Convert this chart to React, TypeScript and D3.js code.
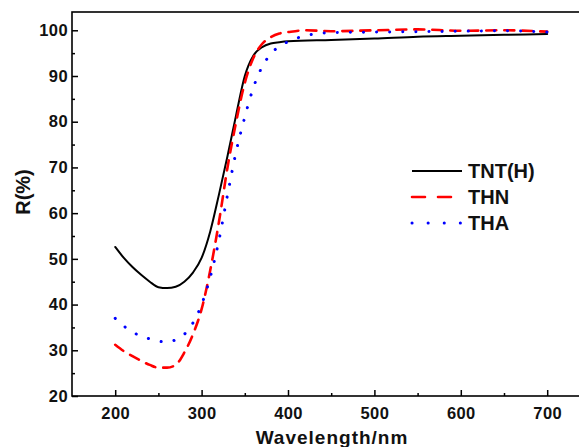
import React, { useRef, useEffect } from "react";
import * as d3 from "d3";

// wavelength (nm) sample points for each curve
const tntWave = [200, 210, 220, 230, 240, 250, 260, 270, 280, 290, 300, 310, 320, 330, 340, 350, 360, 370, 380, 390, 400, 450, 500, 550, 600, 650, 700];
const tntR = [52.6, 50.2, 48.2, 46.5, 45.0, 43.8, 43.6, 43.9, 45.0, 47.0, 50.2, 56.0, 64.0, 72.5, 81.5, 90.0, 94.5, 96.3, 97.1, 97.4, 97.6, 97.9, 98.2, 98.6, 98.8, 99.0, 99.2];

const thnWave = [200, 210, 220, 230, 240, 250, 260, 270, 280, 290, 300, 310, 320, 330, 340, 350, 360, 370, 380, 390, 400, 420, 450, 500, 550, 600, 650, 700];
const thnR = [31.2, 29.8, 28.7, 27.7, 26.8, 26.2, 26.2, 26.8, 29.5, 33.5, 39.0, 47.5, 58.0, 70.0, 80.0, 88.5, 94.0, 97.0, 98.5, 99.3, 99.6, 100.0, 99.8, 100.0, 100.2, 99.9, 100.0, 99.7];

const thaWave = [200, 210, 220, 230, 240, 250, 260, 270, 280, 290, 300, 310, 320, 330, 340, 350, 360, 370, 380, 390, 400, 420, 450, 500, 550, 600, 650, 700];
const thaR = [37.0, 35.3, 34.0, 33.1, 32.5, 32.0, 31.8, 32.3, 33.5, 36.0, 40.0, 46.0, 54.0, 64.0, 73.5, 81.0, 87.5, 92.0, 94.8, 96.5, 97.5, 98.8, 99.5, 99.6, 99.7, 99.8, 99.9, 99.6];

const seriesNames = ["TNT(H)", "THN", "THA"];
const xTicks = [200, 300, 400, 500, 600, 700];
const xMinorTicks = [250, 350, 450, 550, 650];
const yTicks = [20, 30, 40, 50, 60, 70, 80, 90, 100];
const yMinorTicks = [25, 35, 45, 55, 65, 75, 85, 95];

const App = () => {
  const svgRef = useRef<SVGSVGElement>(null);

  useEffect(() => {
    const svg = d3.select(svgRef.current);
    svg.selectAll("*").remove();

    const width = 579;
    const height = 447;
    const font = "'Liberation Sans', Arial, sans-serif";

    const x = d3.scaleLinear().domain([150, 750]).range([72, 590.4]);
    const y = d3.scaleLinear().domain([20, 104]).range([396, 12]);

    const series = [
      { name: seriesNames[0], wave: tntWave, vals: tntR, color: "#000000", width: 2, dash: null },
      { name: seriesNames[1], wave: thnWave, vals: thnR, color: "#ff0000", width: 2.6, dash: "10,8" },
      { name: seriesNames[2], wave: thaWave, vals: thaR, color: "#0000ff", width: 3, dash: "0.1,13" },
    ];

    const line = d3
      .line<[number, number]>()
      .x((d) => x(d[0]))
      .y((d) => y(d[1]))
      .curve(d3.curveMonotoneX);

    series.forEach((s) => {
      const pts: [number, number][] = s.wave.map((w, i) => [w, s.vals[i]]);
      svg
        .append("path")
        .attr("d", line(pts))
        .attr("fill", "none")
        .attr("stroke", s.color)
        .attr("stroke-width", s.width)
        .attr("stroke-linecap", "round")
        .attr("stroke-dasharray", s.dash);
    });

    // frame
    svg
      .append("rect")
      .attr("x", x(150))
      .attr("y", y(104))
      .attr("width", x(750) - x(150))
      .attr("height", y(20) - y(104))
      .attr("fill", "none")
      .attr("stroke", "#000")
      .attr("stroke-width", 1.6);

    const styleAxis = (g) => {
      g.select(".domain").remove();
      g.selectAll("line").attr("stroke", "#000").attr("stroke-width", 1.5);
      g.selectAll("text")
        .attr("fill", "#111")
        .style("font-family", font)
        .style("font-weight", "bold")
        .style("font-size", "16.5px")
        .style("letter-spacing", "0.4px");
    };

    svg
      .append("g")
      .attr("transform", `translate(0,${y(20)})`)
      .call(d3.axisBottom(x).tickValues(xTicks).tickSize(-6).tickPadding(11))
      .call(styleAxis);
    svg
      .append("g")
      .attr("transform", `translate(0,${y(20)})`)
      .call(d3.axisBottom(x).tickValues(xMinorTicks).tickSize(-3).tickFormat(() => ""))
      .call(styleAxis);

    svg
      .append("g")
      .attr("transform", `translate(${x(150)},0)`)
      .call(d3.axisLeft(y).tickValues(yTicks).tickSize(-6).tickPadding(4))
      .call(styleAxis);
    svg
      .append("g")
      .attr("transform", `translate(${x(150)},0)`)
      .call(d3.axisLeft(y).tickValues(yMinorTicks).tickSize(-3).tickFormat(() => ""))
      .call(styleAxis);

    svg
      .append("text")
      .attr("x", 332)
      .attr("y", 444)
      .attr("text-anchor", "middle")
      .style("font-family", font)
      .style("font-weight", "bold")
      .style("font-size", "19px")
      .style("letter-spacing", "1px")
      .attr("fill", "#111")
      .text("Wavelength/nm");

    svg
      .append("text")
      .attr("transform", `translate(30,192) rotate(-90)`)
      .attr("text-anchor", "middle")
      .style("font-family", font)
      .style("font-weight", "bold")
      .style("font-size", "20px")
      .attr("fill", "#111")
      .text("R(%)");

    const legend = svg.append("g").attr("transform", "translate(412,171)");
    series.forEach((s, i) => {
      const item = legend.append("g").attr("transform", `translate(0,${i * 26})`);
      item
        .append("line")
        .attr("x1", 0)
        .attr("x2", 50)
        .attr("y1", 0)
        .attr("y2", 0)
        .attr("stroke", s.color)
        .attr("stroke-width", s.width)
        .attr("stroke-linecap", s.dash ? "round" : "butt")
        .attr("stroke-dasharray", s.dash ? (i === 1 ? "13,13" : "0.1,16") : null);
      item
        .append("text")
        .attr("x", 56)
        .attr("y", 7)
        .style("font-family", font)
        .style("font-weight", "bold")
        .style("font-size", "20px")
        .attr("fill", "#111")
        .text(s.name);
    });
  }, []);

  return (
    <div style={{ position: "absolute", left: 0, top: 0 }}>
      <svg ref={svgRef} width={579} height={447} style={{ display: "block", background: "#fff" }} />
    </div>
  );
};

export default App;
